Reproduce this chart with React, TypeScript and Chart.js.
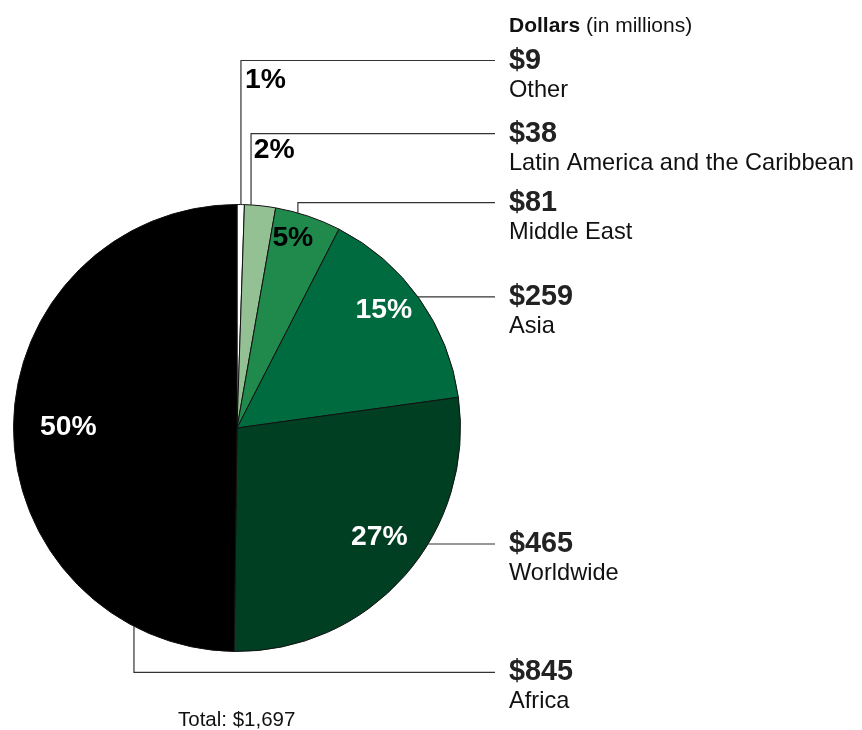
import React, { useEffect, useRef } from "react";
import { Chart, registerables } from "chart.js";

Chart.register(...registerables);

// ---- data ----
const categories = ["Other", "Latin America and the Caribbean", "Middle East", "Asia", "Worldwide", "Africa"];
const values = [9, 38, 81, 259, 465, 845];
const valueLabels = ["$9", "$38", "$81", "$259", "$465", "$845"];
const percentLabels = ["1%", "2%", "5%", "15%", "27%", "50%"];
const headerBold = "Dollars";
const headerRest = " (in millions)";
const totalLabel = "Total: $1,697";

// ---- styles / layout ----
const sliceColors = ["#ffffff", "#93c193", "#1f8a4c", "#006b3f", "#003f22", "#000000"];
const pctColors = ["#000000", "#000000", "#000000", "#ffffff", "#ffffff", "#ffffff"];
const leaderFrac = [0.53, 0.21, 0.34, 0.49, 0.397, 0.149];
const leaderMode = ["v", "v", "v", "h", "h", "v"];
const leaderRowY = [60.5, 133.7, 202.7, 0, 0, 672.3];
const pctMode = ["out", "out", "in", "in", "in", "in"];
const pctOutOffset = [[4, 27.5], [2.6, 24.5], [0, 0], [0, 0], [0, 0], [0, 0]];
const pctAngleDeg = [0, 0, 16.3, 51, 127.3, 270.7];
const pctRadiusFrac = [0, 0, 0.89, 0.845, 0.8, 0.755];
const LINE_END_X = 495;
const TEXT_X = 509;
const FONT = "'Liberation Sans', Arial, Helvetica, sans-serif";

const labelPlugin = {
  id: "pieLabels",
  afterDraw(chart: any) {
    const ctx = chart.ctx as CanvasRenderingContext2D;
    const meta = chart.getDatasetMeta(0);
    ctx.save();
    meta.data.forEach((arc: any, i: number) => {
      const { x: cx, y: cy, outerRadius: r, startAngle, endAngle } = arc.getProps(
        ["x", "y", "outerRadius", "startAngle", "endAngle"],
        true
      );
      const a = startAngle + (endAngle - startAngle) * leaderFrac[i];
      const ax = cx + r * Math.cos(a);
      const ay = cy + r * Math.sin(a);
      let rowY: number;
      ctx.strokeStyle = "#333333";
      ctx.lineWidth = 1.2;
      ctx.beginPath();
      if (leaderMode[i] === "v") {
        rowY = leaderRowY[i];
        ctx.moveTo(ax, ay);
        ctx.lineTo(ax, rowY);
        ctx.lineTo(LINE_END_X, rowY);
      } else {
        rowY = ay;
        ctx.moveTo(ax, ay);
        ctx.lineTo(LINE_END_X, ay);
      }
      ctx.stroke();

      // value + name
      ctx.textAlign = "left";
      ctx.textBaseline = "alphabetic";
      ctx.fillStyle = "#222222";
      ctx.font = `bold 28.8px ${FONT}`;
      ctx.fillText(valueLabels[i], TEXT_X, rowY + 8);
      ctx.fillStyle = "#111111";
      ctx.font = `23.6px ${FONT}`;
      ctx.fillText(categories[i], TEXT_X, rowY + 36);

      // percent label
      ctx.font = `bold 28.3px ${FONT}`;
      ctx.fillStyle = pctColors[i];
      if (pctMode[i] === "out") {
        ctx.textAlign = "left";
        ctx.textBaseline = "alphabetic";
        ctx.fillText(percentLabels[i], ax + pctOutOffset[i][0], rowY + pctOutOffset[i][1]);
      } else {
        const t = ((pctAngleDeg[i] - 90) * Math.PI) / 180;
        const pr = r * pctRadiusFrac[i];
        ctx.textAlign = "center";
        ctx.textBaseline = "middle";
        ctx.fillText(percentLabels[i], cx + pr * Math.cos(t), cy + pr * Math.sin(t) + 1);
      }
    });

    // header
    ctx.textAlign = "left";
    ctx.textBaseline = "alphabetic";
    ctx.fillStyle = "#111111";
    ctx.font = `bold 21px ${FONT}`;
    ctx.fillText(headerBold, TEXT_X, 31.5);
    const w = ctx.measureText(headerBold).width;
    ctx.font = `21px ${FONT}`;
    ctx.fillText(headerRest, TEXT_X + w, 31.5);

    // total
    ctx.font = `20.5px ${FONT}`;
    ctx.fillText(totalLabel, 178, 726);
    ctx.restore();
  },
};

export default function App() {
  const ref = useRef<HTMLCanvasElement | null>(null);
  useEffect(() => {
    if (!ref.current) return;
    const chart = new Chart(ref.current, {
      type: "pie",
      data: {
        labels: categories,
        datasets: [
          {
            data: values,
            backgroundColor: sliceColors,
            borderColor: "#111111",
            borderWidth: 1,
          },
        ],
      },
      options: {
        responsive: true,
        maintainAspectRatio: false,
        animation: false,
        layout: { padding: { left: 13, right: 401, top: 204, bottom: 78 } },
        plugins: {
          legend: { display: false },
          tooltip: { enabled: false },
        },
      },
      plugins: [labelPlugin],
    });
    return () => chart.destroy();
  }, []);
  return (
    <div style={{ position: "fixed", left: 0, top: 0, width: 862, height: 730, background: "#ffffff" }}>
      <canvas ref={ref} />
    </div>
  );
}
